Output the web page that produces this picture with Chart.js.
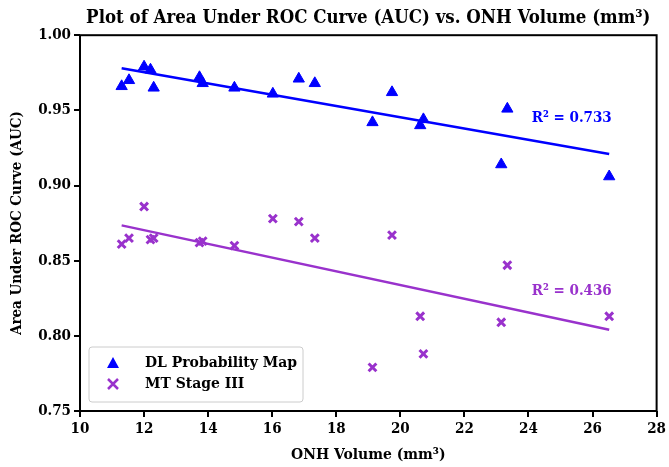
<!DOCTYPE html>
<html>
<head>
<meta charset="utf-8">
<script src="https://cdn.jsdelivr.net/npm/chart.js@4/dist/chart.umd.min.js"></script>
<style>
  html, body { margin: 0; padding: 0; background: #fff; }
  #wrap { width: 669px; height: 467px; }
</style>
</head>
<body>
<div id="wrap"><canvas id="aucChart"></canvas></div>
<script>
// ONH volume (mm3) for each case, shared by both series
const onhVolume = [11.30, 11.53, 12.00, 12.20, 12.30, 13.73, 13.83, 14.82, 16.02, 16.83, 17.33, 19.13, 19.74, 20.62, 20.72, 23.15, 23.34, 26.52];
const dlAuc = [0.966, 0.970, 0.979, 0.977, 0.965, 0.972, 0.968, 0.965, 0.961, 0.971, 0.968, 0.942, 0.962, 0.940, 0.944, 0.914, 0.951, 0.906];
const mtAuc = [0.861, 0.865, 0.886, 0.864, 0.865, 0.862, 0.863, 0.860, 0.878, 0.876, 0.865, 0.779, 0.867, 0.813, 0.788, 0.809, 0.847, 0.813];

// fit line end points
const fitX = [11.30, 26.52];
const dlFit = [0.978, 0.921];
const mtFit = [0.8735, 0.804];

const seriesNames = ['DL Probability Map', 'MT Stage III'];
const r2Labels = ['R² = 0.733', 'R² = 0.436'];
const r2Pos = [[26.6, 0.945], [26.6, 0.830]];

const xTicks = [10, 28, 2];
const yTicks = [0.75, 1.00, 0.05];

const BLUE = '#0000ff';
const PURPLE = '#9932cc';
const FONT = "'DejaVu Serif Condensed', 'DejaVu Serif', serif";

const toPts = (xs, ys) => xs.map((x, i) => ({ x: x, y: ys[i] }));

// frame, R2 labels and the legend box inside the plot
const extrasPlugin = {
    id: 'extras',
    afterDraw(chart) {
        const { ctx, chartArea: a, scales } = chart;
        ctx.save();
        ctx.strokeStyle = '#000';
        ctx.lineWidth = 2;
        ctx.strokeRect(a.left, a.top, a.right - a.left, a.bottom - a.top);

        ctx.font = `bold 15px ${FONT}`;
        ctx.textAlign = 'right';
        ctx.textBaseline = 'middle';
        [BLUE, PURPLE].forEach((c, i) => {
            ctx.fillStyle = c;
            ctx.fillText(r2Labels[i], scales.x.getPixelForValue(r2Pos[i][0]), scales.y.getPixelForValue(r2Pos[i][1]));
        });

        // legend
        const lx = a.left + 9, ly = a.bottom - 64, lw = 214, lh = 55;
        ctx.fillStyle = 'rgba(255,255,255,0.8)';
        ctx.strokeStyle = '#cccccc';
        ctx.lineWidth = 1;
        ctx.beginPath();
        ctx.roundRect(lx, ly, lw, lh, 3);
        ctx.fill();
        ctx.stroke();

        // triangle
        const tx = lx + 24, ty = ly + 16;
        ctx.fillStyle = BLUE;
        ctx.beginPath();
        ctx.moveTo(tx, ty - 6);
        ctx.lineTo(tx + 6, ty + 5);
        ctx.lineTo(tx - 6, ty + 5);
        ctx.closePath();
        ctx.fill();
        // cross
        const cx = lx + 24, cy = ly + 37;
        ctx.strokeStyle = PURPLE;
        ctx.lineWidth = 2.5;
        ctx.beginPath();
        ctx.moveTo(cx - 5, cy - 5); ctx.lineTo(cx + 5, cy + 5);
        ctx.moveTo(cx + 5, cy - 5); ctx.lineTo(cx - 5, cy + 5);
        ctx.stroke();

        ctx.fillStyle = '#000';
        ctx.textAlign = 'left';
        ctx.font = `bold 15.5px ${FONT}`;
        ctx.fillText(seriesNames[0], lx + 56, ty);
        ctx.fillText(seriesNames[1], lx + 56, cy);
        ctx.restore();
    }
};

new Chart(document.getElementById('aucChart'), {
    type: 'scatter',
    data: {
        datasets: [
            {
                label: seriesNames[0],
                data: toPts(onhVolume, dlAuc),
                pointStyle: 'triangle',
                pointRadius: 6.5,
                backgroundColor: BLUE,
                borderColor: BLUE,
                borderWidth: 1,
                order: 0
            },
            {
                label: seriesNames[1],
                data: toPts(onhVolume, mtAuc),
                pointStyle: 'crossRot',
                pointRadius: 5.5,
                borderColor: PURPLE,
                borderWidth: 3,
                order: 0
            },
            {
                type: 'line',
                data: toPts(fitX, dlFit),
                borderColor: BLUE,
                borderWidth: 2.5,
                pointRadius: 0,
                order: 1
            },
            {
                type: 'line',
                data: toPts(fitX, mtFit),
                borderColor: PURPLE,
                borderWidth: 2.5,
                pointRadius: 0,
                order: 1
            }
        ]
    },
    options: {
        responsive: true,
        maintainAspectRatio: false,
        animation: false,
        layout: { padding: { left: 0, right: 10, top: 0, bottom: 0 } },
        plugins: {
            legend: { display: false },
            tooltip: { enabled: false },
            title: {
                display: true,
                fullSize: false,
                text: 'Plot of Area Under ROC Curve (AUC) vs. ONH Volume (mm³)',
                color: '#000',
                font: { family: FONT, size: 18.5, weight: 'bold' },
                padding: { top: 7, bottom: 6 }
            }
        },
        scales: {
            x: {
                type: 'linear',
                min: xTicks[0],
                max: xTicks[1],
                ticks: { stepSize: xTicks[2], color: '#000', font: { family: FONT, size: 15, weight: 'bold' }, maxRotation: 0 },
                grid: { drawOnChartArea: false, drawTicks: true, tickLength: 6, color: '#000', lineWidth: 2 },
                border: { display: false },
                title: {
                    display: true,
                    text: 'ONH Volume (mm³)',
                    color: '#000',
                    font: { family: FONT, size: 15.5, weight: 'bold' },
                    padding: { top: 0, bottom: 3 }
                },
                afterFit(scale) { scale.height = 56; }
            },
            y: {
                type: 'linear',
                min: yTicks[0],
                max: yTicks[1],
                ticks: {
                    stepSize: yTicks[2],
                    color: '#000',
                    font: { family: FONT, size: 15, weight: 'bold' },
                    callback: v => v.toFixed(2)
                },
                grid: { drawOnChartArea: false, drawTicks: true, tickLength: 6, color: '#000', lineWidth: 2 },
                border: { display: false },
                title: {
                    display: true,
                    text: 'Area Under ROC Curve (AUC)',
                    color: '#000',
                    font: { family: FONT, size: 15, weight: 'bold' },
                    padding: { top: 8, bottom: 0 }
                },
                afterFit(scale) { scale.width = 80; }
            }
        }
    },
    plugins: [extrasPlugin]
});
</script>
</body>
</html>
